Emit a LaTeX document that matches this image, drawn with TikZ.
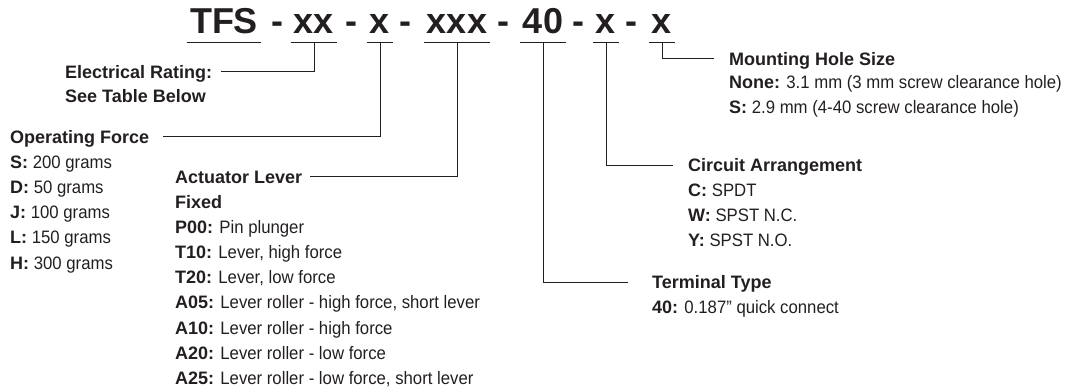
\documentclass[tikz,border=0pt]{standalone}
\usepackage{fontspec}
\setmainfont{Liberation Sans}[UprightFeatures={FakeStretch=0.93}]
\usetikzlibrary{positioning}

\definecolor{ink}{HTML}{231F20}

\tikzset{
  code/.style={font=\fontsize{36}{36}\selectfont\bfseries, inner sep=0pt, anchor=base, text=ink},
  head/.style={font=\fontsize{18}{25}\selectfont\bfseries, inner sep=0pt, anchor=base west,
    text height=13pt, text depth=0pt, text=ink},
  items/.style={font=\fontsize{18}{25.2}\selectfont, inner sep=0pt, anchor=base west, text=ink},
  lead/.style={draw=ink, line width=0.9pt},
}

\begin{document}
\begin{tikzpicture}[x=1pt, y=-1pt]
  \useasboundingbox (0,0) rectangle (1065,391);

  % part number
  \node[code] (tfs)    at (224,33) {TFS};
  \node[code] (d1)     at (277,33) {-};
  \node[code] (rating) at (314,33) {xx};
  \node[code] (d2)     at (351,33) {-};
  \node[code] (force)  at (380,33) {x};
  \node[code] (d3)     at (405,33) {-};
  \node[code] (lever)  at (457,33) {xxx};
  \node[code] (d4)     at (503,33) {-};
  \node[code] (term)   at (543,33) {40};
  \node[code] (d5)     at (578,33) {-};
  \node[code] (circ)   at (606,33) {x};
  \node[code] (d6)     at (631,33) {-};
  \node[code] (hole)   at (662,33) {x};

  \foreach \s in {tfs,rating,force,lever,term,circ,hole}
    \draw[lead] ([xshift=-3pt,yshift=-9pt]\s.base west) -- ([xshift=3pt,yshift=-9pt]\s.base east);

  % left side
  \node[head] (elec) at (65,78) {Electrical Rating:};
  \node[head] (elecnote) at (65,102) {See Table Below};

  \node[head] (forcehead) at (10,143) {Operating Force};
  \node[items] (forcelist) at (10,168.2) {
    \begin{tabular}[t]{@{}l@{}}
      \textbf{S:} 200 grams \\
      \textbf{D:} 50 grams \\
      \textbf{J:} 100 grams \\
      \textbf{L:} 150 grams \\
      \textbf{H:} 300 grams
    \end{tabular}
  };

  \node[head] (leverhead) at (175,183) {Actuator Lever};
  \node[items] (leverlist) at (175,208) {
    \begin{tabular}[t]{@{}l@{}}
      \textbf{Fixed} \\
      \textbf{P00:} Pin plunger \\
      \textbf{T10:} Lever, high force \\
      \textbf{T20:} Lever, low force \\
      \textbf{A05:} Lever roller - high force, short lever \\
      \textbf{A10:} Lever roller - high force \\
      \textbf{A20:} Lever roller - low force \\
      \textbf{A25:} Lever roller - low force, short lever
    \end{tabular}
  };

  % right side
  \node[head] (holehead) at (729,65) {Mounting Hole Size};
  \node[items] (holelist) at (729,88) {
    \begin{tabular}[t]{@{}l@{}}
      \textbf{None:} 3.1 mm (3 mm screw clearance hole) \\
      \textbf{S:} 2.9 mm (4-40 screw clearance hole)
    \end{tabular}
  };

  \node[head] (circhead) at (688,171.5) {Circuit Arrangement};
  \node[items] (circlist) at (688,196.5) {
    \begin{tabular}[t]{@{}l@{}}
      \textbf{C:} SPDT \\
      \textbf{W:} SPST N.C. \\
      \textbf{Y:} SPST N.O.
    \end{tabular}
  };

  \node[head] (termhead) at (652,288.5) {Terminal Type};
  \node[items] (termlist) at (652,313) {\textbf{40:} 0.187” quick connect};

  % leaders
  \draw[lead] ([yshift=-9pt]rating.base) |- ([xshift=9pt]elec.east);
  \draw[lead] ([yshift=-9pt]force.base) |- ([xshift=14pt]forcehead.east);
  \draw[lead] ([yshift=-9pt]lever.base) |- ([xshift=8pt]leverhead.east);
  \draw[lead] ([yshift=-9pt]term.base) |- ([xshift=-24pt]termhead.west);
  \draw[lead] ([yshift=-9pt]circ.base) |- ([xshift=-15pt]circhead.west);
  \draw[lead] ([yshift=-9pt]hole.base) |- ([xshift=-15pt]holehead.west);
\end{tikzpicture}
\end{document}
